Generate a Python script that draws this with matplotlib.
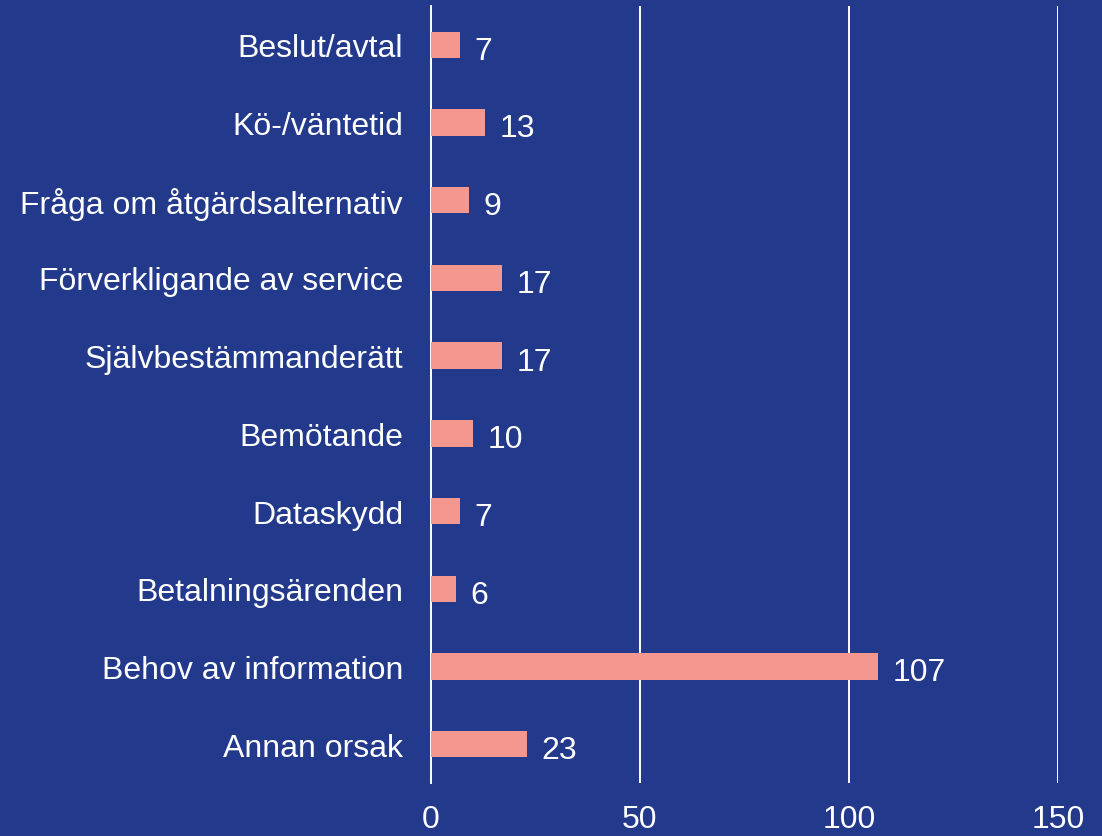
import matplotlib.pyplot as plt

plt.rcParams['font.family'] = ['Liberation Sans', 'DejaVu Sans']

categories = ['Beslut/avtal', 'Kö-/väntetid', 'Fråga om åtgärdsalternativ',
              'Förverkligande av service', 'Självbestämmanderätt', 'Bemötande',
              'Dataskydd', 'Betalningsärenden', 'Behov av information', 'Annan orsak']
values = [7, 13, 9, 17, 17, 10, 7, 6, 107, 23]
xticks = [0, 50, 100, 150]

bg = '#22398C'
bar_color = '#F4978E'

fig = plt.figure(figsize=(11.02, 8.37), dpi=100, facecolor=bg)
ax = fig.add_axes([0.391, 0.0633, 0.569, 0.9283], facecolor=bg)

pos = list(range(len(categories)))
ax.barh(pos, values, height=0.34, color=bar_color, zorder=3)
for p, v in zip(pos, values):
    ax.text(v + 3.5, p + 0.03, str(v), va='center_baseline', ha='left',
            color='white', fontsize=23)

ax.set_ylim(len(categories) - 0.5, -0.5)
ax.set_xlim(0, 150)
ax.set_yticks(pos)
ax.set_yticklabels(categories)
ax.set_xticks(xticks)
ax.grid(axis='x', color='white', linewidth=1.4, zorder=0)
ax.tick_params(axis='both', colors='white', labelsize=23, length=0)
ax.tick_params(axis='y', pad=20)
ax.tick_params(axis='x', pad=15)
for s in ['top', 'right', 'bottom']:
    ax.spines[s].set_visible(False)
ax.spines['left'].set_color('white')
ax.spines['left'].set_linewidth(1.4)

fig.savefig('out.png', dpi=100, facecolor=bg)
